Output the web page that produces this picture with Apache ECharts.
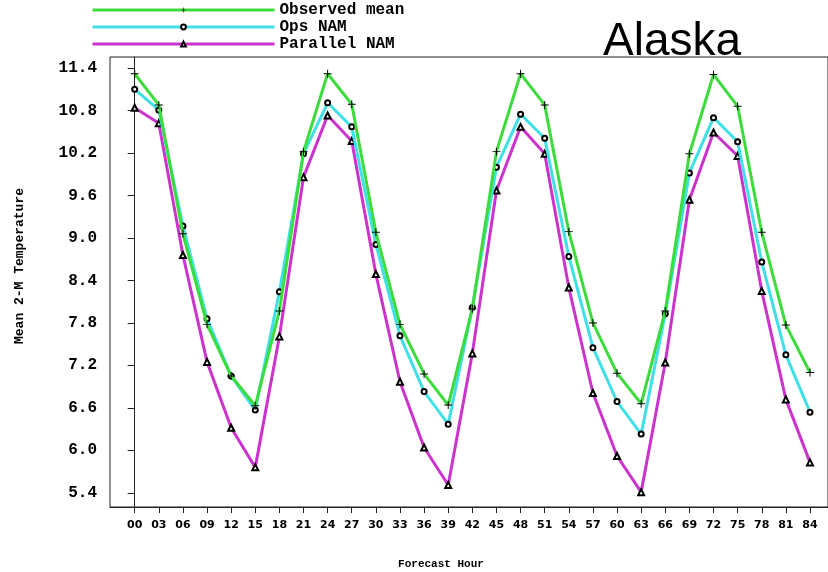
<!DOCTYPE html>
<html>
<head>
<meta charset="utf-8">
<script src="https://cdn.jsdelivr.net/npm/echarts@6/dist/echarts.min.js"></script>
<style>
html,body{margin:0;padding:0;background:#fff;}
#chart{width:828px;height:572px;}
</style>
</head>
<body>
<div id="chart"></div>
<script>
// Forecast hours (x categories) and tick labels
var hours = [0,3,6,9,12,15,18,21,24,27,30,33,36,39,42,45,48,51,54,57,60,63,66,69,72,75,78,81,84];
var hourLabels = ['00','03','06','09','12','15','18','21','24','27','30','33','36','39','42','45','48','51','54','57','60','63','66','69','72','75','78','81','84'];
var yTicks = [5.4,6.0,6.6,7.2,7.8,8.4,9.0,9.6,10.2,10.8,11.4];

// Series values
var observedMean = [11.32,10.88,9.06,7.78,7.05,6.63,7.97,10.22,11.32,10.89,9.08,7.78,7.08,6.64,8.00,10.22,11.32,10.88,9.09,7.80,7.09,6.66,7.97,10.19,11.31,10.86,9.08,7.77,7.10];
var opsNAM = [11.10,10.81,9.17,7.86,7.05,6.57,8.24,10.19,10.91,10.57,8.91,7.62,6.83,6.37,8.02,10.00,10.75,10.41,8.74,7.45,6.69,6.23,7.93,9.92,10.70,10.36,8.66,7.35,6.54];
var parallelNAM = [10.84,10.62,8.76,7.25,6.32,5.76,7.61,9.86,10.73,10.37,8.49,6.97,6.04,5.51,7.37,9.67,10.57,10.19,8.30,6.81,5.92,5.41,7.24,9.54,10.49,10.16,8.25,6.72,5.83];

function pairs(vals){ return hours.map(function(h,i){ return [h, vals[i]]; }); }

var plusPath = 'path://M4.4,0H5.6V4.4H10V5.6H5.6V10H4.4V5.6H0V4.4H4.4Z';

var chart = echarts.init(document.getElementById('chart'), null, {renderer:'canvas'});
chart.setOption({
  animation: false,
  backgroundColor: '#fff',
  grid: {left:110, right:0, top:57, bottom:65, show:true, borderColor:'#222', borderWidth:1, backgroundColor:'transparent'},
  legend: {
    orient:'vertical', left:86, top:-3, itemWidth:182, itemHeight:6, itemGap:1,
    lineStyle:{width:3},
    textStyle:{fontFamily:'Liberation Mono', fontWeight:'bold', fontSize:16, color:'#000'},
    data:['Observed mean','Ops NAM','Parallel NAM']
  },
  xAxis: {
    type:'value', min:-3.07, max:86.24,
    axisLine:{show:true, lineStyle:{color:'#222', width:1}},
    splitLine:{show:false},
    axisTick:{show:true, customValues:hours, length:6, inside:false, lineStyle:{color:'#222'}},
    axisLabel:{customValues:hours, margin:13, fontFamily:'DejaVu Sans', fontWeight:'bold', fontSize:11, color:'#000',
      formatter:function(v){ var i = hours.indexOf(Math.round(v)); return i>=0 ? hourLabels[i] : ''; }}
  },
  yAxis: {
    type:'value', min:5.2, max:11.557,
    axisLine:{show:true, lineStyle:{color:'#222', width:1}},
    splitLine:{show:false},
    axisTick:{show:true, customValues:yTicks, length:7, lineStyle:{color:'#222'}},
    axisLabel:{customValues:yTicks, margin:13, fontFamily:'Liberation Mono', fontWeight:'bold', fontSize:16, color:'#000',
      formatter:function(v){ return v.toFixed(1); }}
  },
  graphic: [
    {type:'text', left:603, top:19, style:{text:'Alaska', font:'46px "Liberation Sans", Arial, sans-serif', fill:'#000'}, z:0},
    {type:'text', x:441, y:564, style:{text:'Forecast Hour', font:'bold 11px "Liberation Mono", monospace', fill:'#000', align:'center', verticalAlign:'middle'}},
    {type:'text', x:20, y:266, rotation:Math.PI/2, style:{text:'Mean 2-M Temperature', font:'bold 13px "Liberation Mono", monospace', fill:'#000', align:'center', verticalAlign:'middle'}}
  ],
  series: [
    {name:'Observed mean', type:'line', data:pairs(observedMean), symbol:plusPath, symbolSize:8,
      lineStyle:{color:'#3cdc3c', width:3}, itemStyle:{color:'#000'}, emphasis:{disabled:true}, z:3},
    {name:'Ops NAM', type:'line', data:pairs(opsNAM), symbol:'emptyCircle', symbolSize:5,
      lineStyle:{color:'#40e0e6', width:3}, itemStyle:{color:'#000', borderColor:'#000', borderWidth:1}, emphasis:{disabled:true}, z:2},
    {name:'Parallel NAM', type:'line', data:pairs(parallelNAM), symbol:'emptyTriangle', symbolSize:6,
      lineStyle:{color:'#cc33cc', width:3}, itemStyle:{color:'#000', borderColor:'#000', borderWidth:1}, emphasis:{disabled:true}, z:1}
  ]
});
</script>
</body>
</html>
